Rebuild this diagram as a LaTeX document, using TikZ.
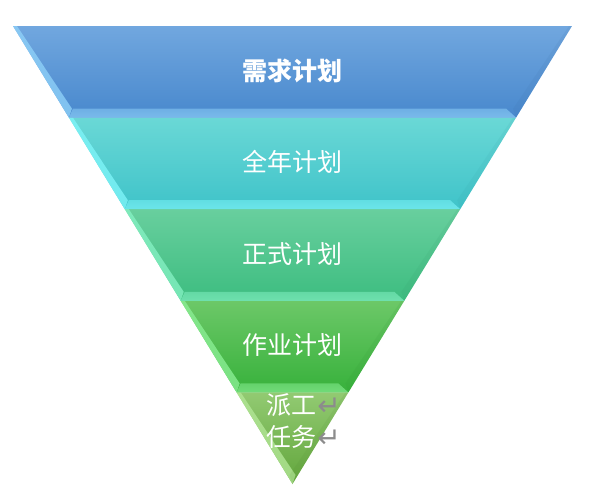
\documentclass[tikz,border=0pt]{standalone}
\usepackage{fontspec}
\setmainfont{Noto Sans CJK SC}
\newfontfamily\markfont{DejaVu Sans}
\usepackage{tikz}

\definecolor{blueT}{HTML}{71A7DF}
\definecolor{blueB}{HTML}{4888CD}
\definecolor{blueL}{HTML}{8ED0F8}
\definecolor{tealT}{HTML}{6AD8D6}
\definecolor{tealB}{HTML}{3FC3C9}
\definecolor{tealL}{HTML}{7EF4F8}
\definecolor{mintT}{HTML}{68CF9E}
\definecolor{mintB}{HTML}{3DBD80}
\definecolor{mintL}{HTML}{84F0C2}
\definecolor{grnT}{HTML}{6CC868}
\definecolor{grnB}{HTML}{37B13B}
\definecolor{grnL}{HTML}{8AEE94}
\definecolor{oliveT}{HTML}{92CA72}
\definecolor{oliveB}{HTML}{62A63C}
\definecolor{oliveL}{HTML}{B2E696}
\definecolor{markgray}{HTML}{8C8C8C}

\tikzset{
  bandtext/.style={text=white, font=\fontsize{25}{32}\selectfont},
  retmark/.style={text=markgray, font=\markfont\fontsize{28}{32}\selectfont}
}

\begin{document}
\begin{tikzpicture}[x=1pt, y=-1pt]
  \useasboundingbox (0,0) rectangle (590,501);
  % funnel bands, widest on top
  \foreach \k/\ctop/\cbot/\clite in {0/blueT/blueB/blueL, 1/tealT/tealB/tealL,
      2/mintT/mintB/mintL, 3/grnT/grnB/grnL, 4/oliveT/oliveB/oliveL}{
    \pgfmathsetmacro\ya{26+91.6*\k}
    \pgfmathsetmacro\yb{\ya+91.6}
    \pgfmathsetmacro\xa{13+0.6103*91.6*\k}
    \pgfmathsetmacro\xb{\xa+0.6103*91.6}
    \shade[top color=\ctop, bottom color=\cbot]
      (\xa,\ya) -- (585-\xa,\ya) -- (585-\xb,\yb) -- (\xb,\yb) -- cycle;
    % left bevel
    \fill[\clite, opacity=0.8]
      (\xa,\ya) -- (\xa+4,\ya) -- (\xb+3,\yb-9) -- (\xb,\yb) -- cycle;
    % right edge, barely darker
    \fill[\cbot!80!black, opacity=0.1]
      (585-\xa,\ya) -- (585-\xa-3,\ya) -- (585-\xb-3,\yb-9) -- (585-\xb,\yb) -- cycle;
  }
  % bottom bevels of the upper four bands
  \foreach \k/\cbot/\clite in {0/blueB/blueL, 1/tealB/tealL, 2/mintB/mintL, 3/grnB/grnL}{
    \pgfmathsetmacro\yb{26+91.6*(\k+1)}
    \pgfmathsetmacro\xb{13+0.6103*91.6*(\k+1)}
    \shade[top color=\clite!55!\cbot, middle color=\clite, bottom color=\clite!70!\cbot]
      (\xb,\yb) -- (585-\xb,\yb) -- (585-\xb-10,\yb-9) -- (\xb+4,\yb-9) -- cycle;
  }

  \node[bandtext, font=\bfseries\fontsize{25}{32}\selectfont] (demand) at (292,71) {需求计划};
  \node[bandtext] (annual) at (292,162) {全年计划};
  \node[bandtext] (formal) at (292,254) {正式计划};
  \node[bandtext] (work) at (292,345) {作业计划};
  \node[bandtext, anchor=west] (dispatch) at (263,405) {派工};
  \node[bandtext, anchor=west] (task) at (263,437) {任务};
  \node[retmark, anchor=west, inner sep=0pt] (ret1) at ([xshift=-3pt,yshift=-2pt]dispatch.east) {↵};
  \node[retmark, anchor=west, inner sep=0pt] (ret2) at ([xshift=-3pt,yshift=-2pt]task.east) {↵};
\end{tikzpicture}
\end{document}
